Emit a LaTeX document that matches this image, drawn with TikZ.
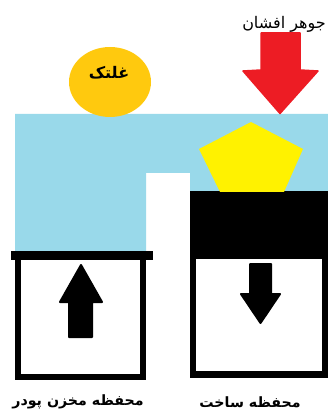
\documentclass[tikz,border=0pt]{standalone}
\usepackage{fontspec}
\newfontfamily\arabicfont[Script=Arabic]{DejaVu Sans}
\TeXXeTstate=1
\usetikzlibrary{positioning,shapes.geometric}
\definecolor{powderblue}{HTML}{99D9EA}
\definecolor{rollergold}{HTML}{FFC90E}
\definecolor{partyellow}{HTML}{FFF200}
\definecolor{laserred}{HTML}{ED1C24}

\begin{document}
\begin{tikzpicture}[
  x=1pt, y=-1pt,
  powder/.style={fill=powderblue, draw=none},
  chamber/.style={draw=black, line width=6pt, fill=white},
  piston/.style={fill=black, draw=black, line width=2pt, line join=round},
  label/.style={font=\arabicfont\bfseries\fontsize{14.2}{16}\selectfont, inner sep=0pt, text=black}
]
\useasboundingbox (0,0) rectangle (328,411);
% powder bed
\fill[powder] (15,114) -- (328,114) -- (328,192) -- (190,192) -- (190,173) -- (146,173) -- (146,252) -- (15,252) -- cycle;
% feed chamber
\draw[chamber] (18,255) rectangle (143,377);
\fill[black] (11,251) rectangle (153,260);
\draw[piston] (81,265) -- (102,302) -- (92,302) -- (92,337) -- (69,337) -- (69,302) -- (60,302) -- cycle;
% build chamber
\fill[black] (190,191) rectangle (328,378);
\fill[white] (196,259) rectangle (322,371);
\draw[piston] (250,264) -- (271,264) -- (271,294) -- (280,294) -- (260.5,323) -- (241,294) -- (250,294) -- cycle;
% part
\fill[partyellow] (251,122) -- (303,149) -- (284,192) -- (220,192) -- (199,149) -- cycle;
% roller
\node[ellipse, fill=rollergold, minimum width=82pt, minimum height=70pt, inner sep=0pt] (roller) at (110,82) {};
\node[label, font=\arabicfont\bfseries\fontsize{16}{18}\selectfont] (rollertext) at (109,73) {\beginR غلتک\endR};
% laser
\fill[laserred, draw=laserred, line width=1.5pt, line join=round] (261,33) -- (300,33) -- (300,70) -- (318,71) -- (280,113.5) -- (243,71) -- (261,70) -- cycle;
\node[label, font=\arabicfont\fontsize{16}{18}\selectfont] (lasertext) at (284,24) {\beginR جوهر افشان\endR};
% captions
\node[label] (feedtext) at (78,402) {\beginR محفظه مخزن پودر\endR};
\node[label] (buildtext) at (250,402) {\beginR محفظه ساخت\endR};
\end{tikzpicture}
\end{document}
